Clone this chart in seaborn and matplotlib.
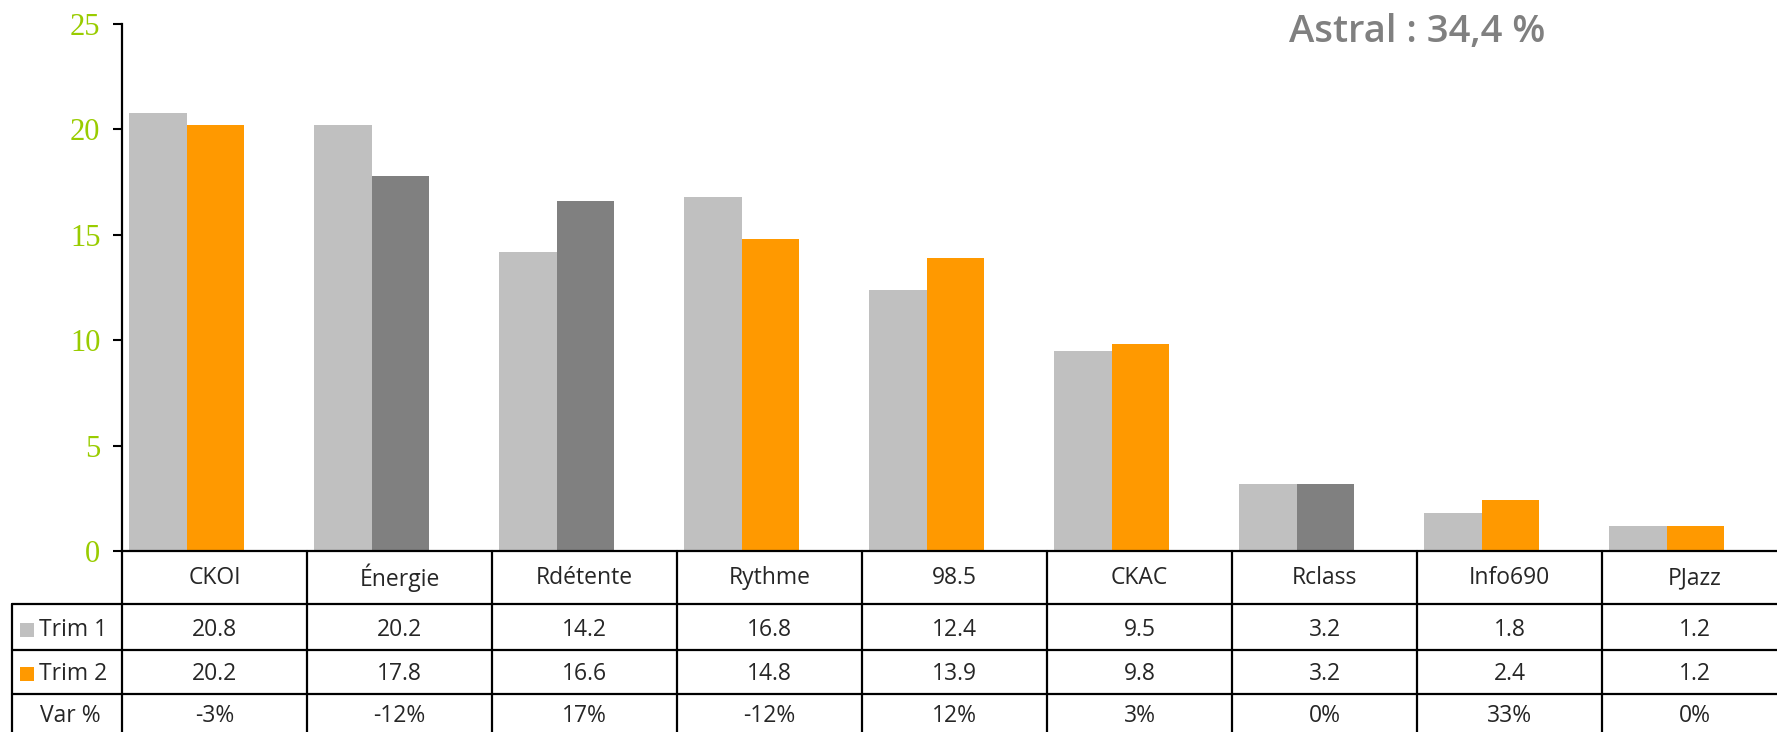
import numpy as np
import pandas as pd
import matplotlib.pyplot as plt
import matplotlib.transforms as mtransforms
from matplotlib.lines import Line2D
from matplotlib.patches import Rectangle
import seaborn as sns

# Chart data
stations = ['CKOI', 'Énergie', 'Rdétente', 'Rythme', '98.5', 'CKAC', 'Rclass', 'Info690', 'PJazz']
trim1 = [20.8, 20.2, 14.2, 16.8, 12.4, 9.5, 3.2, 1.8, 1.2]
trim2 = [20.2, 17.8, 16.6, 14.8, 13.9, 9.8, 3.2, 2.4, 1.2]
var_pct = ['-3%', '-12%', '17%', '-12%', '12%', '3%', '0%', '33%', '0%']
series = ['Trim 1', 'Trim 2']
var_label = 'Var %'
y_ticks = [0, 5, 10, 15, 20, 25]
title = 'Astral : 34,4 %'

# Style
W, H = 1777, 732
GRAY = '#C0C0C0'
ORANGE = '#FF9900'
DARK = '#808080'
GREEN = '#99CC00'
dark_bars = ['Énergie', 'Rdétente', 'Rclass']  # Trim 2 bars drawn in dark grey

sns.set_theme(style='white')
plt.rcParams['font.family'] = ['Open Sans', 'DejaVu Sans']


def fx(px):
    return px / W


def fy(py):
    return 1 - py / H


df = pd.DataFrame({
    'station': stations + stations,
    'trim': [series[0]] * len(stations) + [series[1]] * len(stations),
    'value': trim1 + trim2,
})

fig = plt.figure(figsize=(W / 100, H / 100), dpi=100)
ax = fig.add_axes([fx(122), fy(551), fx(1787) - fx(122), fy(24) - fy(551)])

sns.barplot(data=df, x='station', y='value', hue='trim', palette=[GRAY, ORANGE],
            width=0.62, saturation=1, errorbar=None, legend=False, ax=ax)

for bar, name in zip(ax.containers[1], stations):
    if name in dark_bars:
        bar.set_facecolor(DARK)
for bar in ax.patches:
    bar.set_edgecolor('none')

ax.set_xlim(-0.35, len(stations) - 0.35)
ax.set_ylim(0, 25)
ax.set_yticks(y_ticks)
ax.set_xticks([])
ax.set_xlabel('')
ax.set_ylabel('')
ax.tick_params(axis='y', direction='out', left=True, length=6.5, width=1.5,
               color='black', labelcolor=GREEN, pad=9)
for lbl in ax.get_yticklabels():
    lbl.set_fontfamily('Liberation Serif')
    lbl.set_fontsize(22)
for side in ['top', 'right']:
    ax.spines[side].set_visible(False)
for side in ['left', 'bottom']:
    ax.spines[side].set_color('black')
    ax.spines[side].set_linewidth(1.6)

# Data table under the plot
trans = mtransforms.blended_transform_factory(ax.transData, fig.transFigure)
lw = 1.6
for b in np.arange(-0.35, len(stations), 1.0):
    fig.add_artist(Line2D([b, b], [fy(551), fy(740)], transform=trans, color='black', lw=lw))
for py in [604, 650, 694]:
    fig.add_artist(Line2D([fx(12), 1.0], [fy(py), fy(py)], transform=fig.transFigure,
                          color='black', lw=lw))
fig.add_artist(Line2D([fx(12), fx(12)], [fy(604), fy(740)], transform=fig.transFigure,
                      color='black', lw=lw))

fs = 16.5
for i, name in enumerate(stations):
    cx = i + 0.15
    fig.text(cx, fy(578), name, transform=trans, ha='center', va='center', fontsize=fs)
    fig.text(cx, fy(630), f'{trim1[i]:.1f}', transform=trans, ha='center', va='center', fontsize=fs)
    fig.text(cx, fy(674), f'{trim2[i]:.1f}', transform=trans, ha='center', va='center', fontsize=fs)
    fig.text(cx, fy(716), var_pct[i], transform=trans, ha='center', va='center', fontsize=fs)

for label, color, py in [(series[0], GRAY, 630), (series[1], ORANGE, 674)]:
    fig.add_artist(Rectangle((fx(20), fy(py + 7)), 14 / W, 14 / H,
                             transform=fig.transFigure, facecolor=color, edgecolor='none'))
    fig.text(fx(39), fy(py), label, ha='left', va='center', fontsize=fs)
fig.text(fx(40), fy(716), var_label, ha='left', va='center', fontsize=fs)

fig.text(fx(1417), fy(42), title, ha='center', va='baseline', fontsize=27.5,
         fontweight='semibold', color='#808080')

fig.savefig('out.png', dpi=100)
